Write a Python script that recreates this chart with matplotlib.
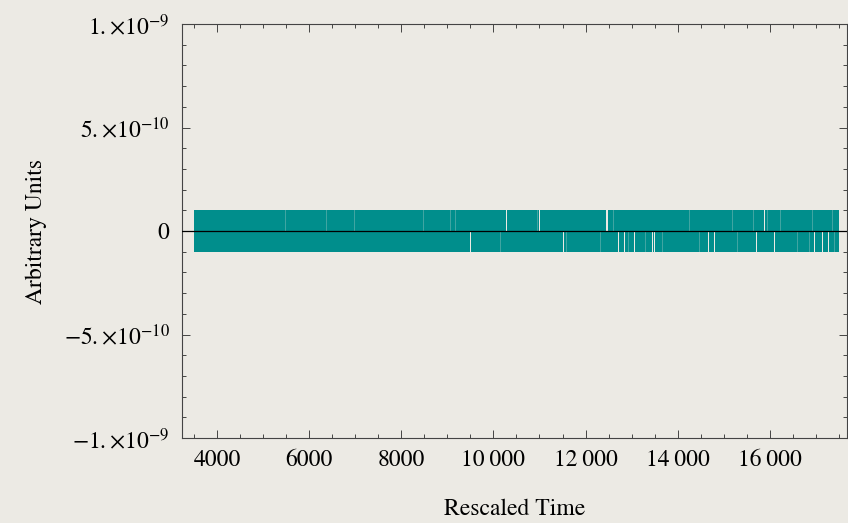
import matplotlib
matplotlib.use("Agg")
import matplotlib.pyplot as plt
from matplotlib.ticker import MultipleLocator, FixedLocator

# signal: rapid oscillation between +amp and -amp over the time window
t_start = 3500
t_end = 17500
amp = 1e-10

# times where the oscillation drops out (upper / lower half)
upper_gaps = [10290, 11005, 12470, 15875]
upper_gap_widths = [20, 20, 45, 20]
upper_faint = [5485, 6385, 6985, 8485, 9070, 9175, 10950, 12615, 14115,
               14260, 15190, 15645, 15950, 16225, 16930, 17365]
lower_gaps = [9505, 11515, 12725, 12855, 13070, 13450, 13505, 14660, 14790,
              15715, 16095, 16965, 17145, 17275]
lower_faint = [10160, 11585, 12325, 12940, 13305, 13665, 14465, 15300,
               15875, 16600, 16855, 17400]

x_ticks = [4000, 6000, 8000, 10000, 12000, 14000, 16000]
x_labels = ['4000', '6000', '8000', '10\u2009000', '12\u2009000', '14\u2009000', '16\u2009000']
y_ticks = [-1e-9, -5e-10, 0, 5e-10, 1e-9]
y_labels = [r'$-1.{\times}10^{-9}$', r'$-5.{\times}10^{-10}$', '0',
            r'$5.{\times}10^{-10}$', r'$1.{\times}10^{-9}$']

bg = '#ECEAE4'
teal = '#008E8C'
faint = '#40A5A2'

plt.rcParams['font.family'] = ['STIXGeneral', 'DejaVu Serif']
plt.rcParams['mathtext.fontset'] = 'stix'

fig = plt.figure(figsize=(8.48, 5.23), dpi=100, facecolor=bg)
ax = fig.add_axes([182 / 848, 85 / 523, 665 / 848, 414 / 523])
ax.set_facecolor(bg)

# the band
ax.fill_between([t_start, t_end], -amp, amp, color=teal, linewidth=0, zorder=2)

# dropouts
ax.bar(upper_gaps, amp, width=upper_gap_widths, bottom=0, color=bg, linewidth=0, zorder=3)
ax.bar(upper_faint, amp, width=18, bottom=0, color=faint, linewidth=0, zorder=3)
ax.bar(lower_gaps, -amp, width=20, bottom=0, color=bg, linewidth=0, zorder=3)
ax.bar(lower_faint, -amp, width=18, bottom=0, color=faint, linewidth=0, zorder=3)

ax.axhline(0, color='black', linewidth=0.9, zorder=4)

ax.set_xlim(3240, 17675)
ax.set_ylim(-1e-9, 1e-9)

ax.xaxis.set_major_locator(FixedLocator(x_ticks))
ax.set_xticklabels(x_labels)
ax.xaxis.set_minor_locator(MultipleLocator(500))
ax.yaxis.set_major_locator(FixedLocator(y_ticks))
ax.set_yticklabels(y_labels)
ax.yaxis.set_minor_locator(MultipleLocator(1e-10))

for s in ax.spines.values():
    s.set_color('#444444')
    s.set_linewidth(0.8)

ax.tick_params(which='both', direction='in', top=True, right=True,
               color='#444444', width=0.7, labelsize=17)
ax.tick_params(which='major', length=6)
ax.tick_params(which='minor', length=3)
ax.tick_params(axis='x', pad=8)
ax.tick_params(axis='y', pad=9)

ax.set_xlabel('Rescaled Time', fontsize=17, labelpad=20)
ax.set_ylabel('Arbitrary Units', fontsize=17, labelpad=12)

fig.savefig('out.png', dpi=100, facecolor=bg)
